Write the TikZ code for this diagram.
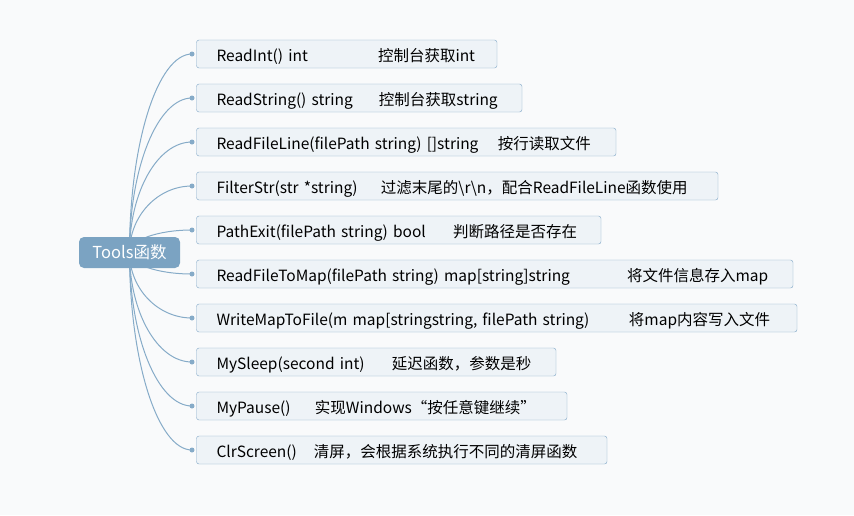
\documentclass[tikz,border=0pt]{standalone}
\usepackage{fontspec}
\setmainfont{Noto Sans CJK SC}
\usetikzlibrary{calc}
\usetikzlibrary{backgrounds}
\definecolor{bgcol}{HTML}{F9FAFB}
\definecolor{rootcol}{HTML}{7BA3C2}
\definecolor{edgecol}{HTML}{86ABC8}
\definecolor{boxfill}{HTML}{EEF3F7}
\definecolor{boxline}{HTML}{7FA6C6}

\begin{document}
\begin{tikzpicture}[x=1pt,y=-1pt,inner sep=0pt,outer sep=0pt,
rootbox/.style={fill=rootcol,rounded corners=5pt,minimum width=101pt,minimum height=31pt,text height=11pt,text depth=0pt,text=white,font=\fontsize{16.5}{19}\selectfont},
fnbox/.style={draw=boxline,fill=boxfill,rounded corners=2.5pt,anchor=west,inner xsep=20pt,minimum height=28pt,text height=14pt,text depth=0pt,align=left,text=black,font=\fontsize{15.5}{18}\selectfont},
branch/.style={draw=edgecol,line width=1pt},
dot/.style={fill=edgecol,circle,minimum size=5pt}]
\draw (129.5,252.5) node[rootbox] (root) {Tools函数};
\draw (196.5,54) node[fnbox,text width=260.5pt] (b1) {\makebox[161.5pt][l]{ReadInt() int}控制台获取int};
\draw (196.5,98) node[fnbox,text width=285.5pt] (b2) {\makebox[162.5pt][l]{ReadString() string}控制台获取string};
\draw (196.5,142) node[fnbox,text width=379.5pt] (b3) {\makebox[281.5pt][l]{ReadFileLine(filePath string) []string}按行读取文件};
\draw (196.5,186) node[fnbox,text width=481.5pt] (b4) {\makebox[164.5pt][l]{FilterStr(str *string)}过滤末尾的\textbackslash r\textbackslash n，配合ReadFileLine函数使用};
\draw (196.5,230) node[fnbox,text width=364.5pt] (b5) {\makebox[236.5pt][l]{PathExit(filePath string) bool}判断路径是否存在};
\draw (196.5,274) node[fnbox,text width=556.5pt] (b6) {\makebox[410.5pt][l]{ReadFileToMap(filePath string) map[string]string}将文件信息存入map};
\draw (196.5,318) node[fnbox,text width=560.5pt] (b7) {\makebox[412.5pt][l]{WriteMapToFile(m map[stringstring, filePath string)}将map内容写入文件};
\draw (196.5,362) node[fnbox,text width=319.5pt] (b8) {\makebox[175.5pt][l]{MySleep(second int)}延迟函数，参数是秒};
\draw (196.5,406) node[fnbox,text width=330.5pt] (b9) {\makebox[98.5pt][l]{MyPause()}实现Windows“按任意键继续”};
\draw (196.5,450) node[fnbox,text width=370.5pt] (b10) {\makebox[97.5pt][l]{ClrScreen()}清屏，会根据系统执行不同的清屏函数};
% connectors behind the root box
\begin{pgfonlayer}{background}
\fill[bgcol] (0,0) rectangle (854,515);
\foreach \i in {1,...,10}{
  \coordinate (d\i) at ($(b\i.west)+(-4.5,0)$);
  \draw[branch] (root.center) .. controls ($(root.center)!.55!(root.center |- d\i)$) and ($(d\i)!.55!(root.center |- d\i)$) .. (d\i);
}
\end{pgfonlayer}
\foreach \i in {1,...,10} \node[dot] (dot\i) at (d\i) {};
\end{tikzpicture}
\end{document}
